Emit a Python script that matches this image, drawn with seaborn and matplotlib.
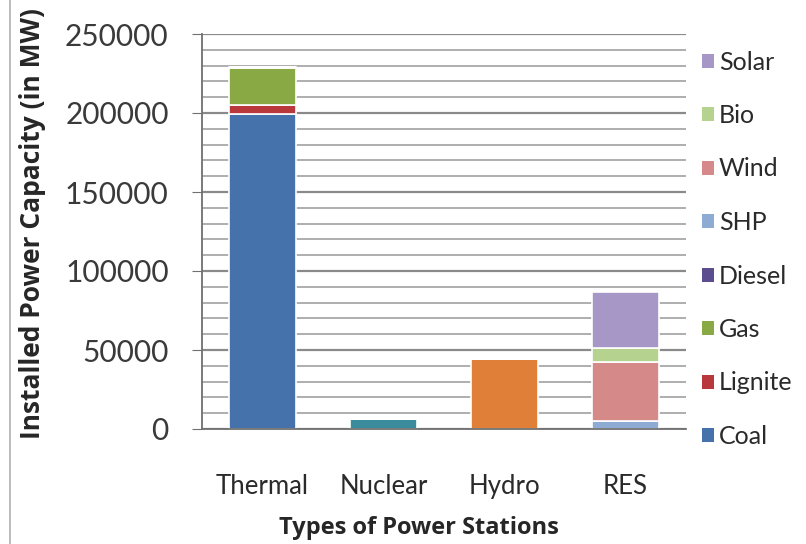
import matplotlib
matplotlib.use("Agg")
from matplotlib import pyplot as plt
from matplotlib.patches import Patch
from matplotlib.lines import Line2D
from matplotlib.ticker import MultipleLocator
import seaborn as sns
import pandas as pd

# categories on the x axis
stations = ["Thermal", "Nuclear", "Hydro", "RES"]

# capacity per source (MW)
thermal_sources = ["Coal", "Lignite", "Gas", "Diesel"]
thermal_values = [199500, 5500, 23500, 600]
nuclear_value = 6200
hydro_value = 44500
res_sources = ["SHP", "Wind", "Bio", "Solar"]
res_values = [5000, 37500, 9000, 35000]

legend_order = ["Solar", "Bio", "Wind", "SHP", "Diesel", "Gas", "Lignite", "Coal"]
colors = {
    "Coal": "#4672AC", "Lignite": "#B8383C", "Gas": "#88A943", "Diesel": "#5C4E8E",
    "SHP": "#8EABD4", "Wind": "#D58A89", "Bio": "#B6D28F", "Solar": "#A797C6",
    "Nuclear": "#3A8C9C", "Hydro": "#E08038",
}

rows = []
for s, v in zip(thermal_sources, thermal_values):
    rows.append(("Thermal", s, v))
rows.append(("Nuclear", "Nuclear", nuclear_value))
rows.append(("Hydro", "Hydro", hydro_value))
for s, v in zip(res_sources, res_values):
    rows.append(("RES", s, v))
df = pd.DataFrame(rows, columns=["station", "source", "value"])
df["station"] = pd.Categorical(df["station"], categories=stations, ordered=True)

sns.set_style("white")
plt.rcParams["font.family"] = ["Lato", "DejaVu Sans"]
bold_font = ["Open Sans", "DejaVu Sans"]

fig = plt.figure(figsize=(8.06, 5.44), dpi=100)
ax = fig.add_axes([202 / 806, 1 - 429 / 544, 484 / 806, 395 / 544])

# first hue level ends up on top of the stack
hue_order = legend_order + ["Hydro", "Nuclear"]
sns.histplot(data=df, x="station", weights="value", hue="source", hue_order=hue_order,
             multiple="stack", discrete=True, shrink=0.55, palette=colors, alpha=1,
             edgecolor="white", linewidth=1.2, legend=False, ax=ax)

ax.set_xlim(-0.5, 3.5)
ax.set_ylim(0, 250000)
ax.yaxis.set_major_locator(MultipleLocator(50000))
ax.yaxis.set_minor_locator(MultipleLocator(10000))
ax.grid(which="major", axis="y", color="#8a8a8a", linewidth=1.6)
ax.grid(which="minor", axis="y", color="#a8a8a8", linewidth=1.3)
ax.grid(axis="x", visible=False)
ax.set_axisbelow(True)
for side in ["top", "right"]:
    ax.spines[side].set_visible(False)
ax.spines["left"].set_color("#707070")
ax.spines["bottom"].set_color("#707070")
ax.spines["left"].set_linewidth(1.3)
ax.spines["bottom"].set_linewidth(1.3)

ax.set_xticks(range(len(stations)))
ax.set_xticklabels(stations)
ax.tick_params(axis="y", which="major", left=True, length=7, color="#707070",
               labelsize=21.5, labelcolor="#3a3a3a", pad=17)
ax.tick_params(axis="y", which="minor", left=False)
ax.tick_params(axis="x", bottom=False, labelsize=18.5, labelcolor="#2a2a2a", pad=29)

ax.set_xlabel("Types of Power Stations", fontsize=17, fontweight="bold",
              family=bold_font)
ax.xaxis.set_label_coords(217 / 484, -87 / 395)
ax.set_ylabel("Installed Power Capacity (in MW)", fontsize=19, fontweight="bold",
              family=bold_font)
ax.yaxis.set_label_coords(-156 / 484, 0.52)

handles = [Patch(facecolor=colors[s], edgecolor="none", label=s) for s in legend_order]
fig.legend(handles=handles, loc="upper left", bbox_to_anchor=(689 / 806, 1 - 38 / 544),
           frameon=False, fontsize=18, handlelength=0.5, handleheight=0.5,
           handletextpad=0.2, labelspacing=1.22, borderpad=0, labelcolor="#2a2a2a")

# image border at the left edge
fig.add_artist(Line2D([10 / 806, 10 / 806], [0, 1], transform=fig.transFigure,
                      color="#b0b0b0", linewidth=1.2))

fig.savefig("out.png", dpi=100)
